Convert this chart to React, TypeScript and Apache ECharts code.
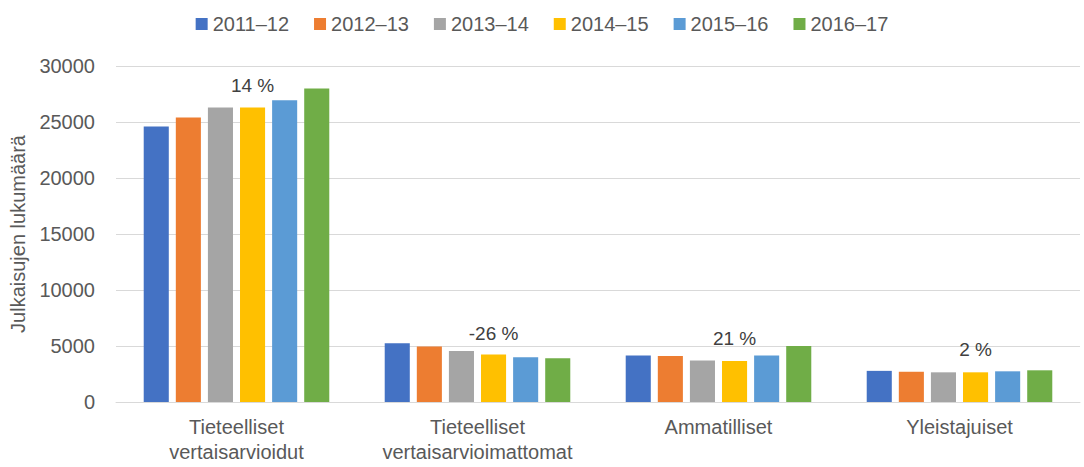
import React, { useEffect, useRef } from "react";
import * as echarts from "echarts";

const categories = [
  "Tieteelliset\nvertaisarvioidut",
  "Tieteelliset\nvertaisarvioimattomat",
  "Ammatilliset",
  "Yleistajuiset",
];
const years = ["2011–12", "2012–13", "2013–14", "2014–15", "2015–16", "2016–17"];
const s2011 = [24600, 5250, 4150, 2780];
const s2012 = [25400, 4950, 4100, 2700];
const s2013 = [26300, 4550, 3700, 2650];
const s2014 = [26300, 4250, 3650, 2650];
const s2015 = [26950, 4000, 4150, 2740];
const s2016 = [28000, 3900, 5000, 2830];
const seriesValues = [s2011, s2012, s2013, s2014, s2015, s2016];
const colors = ["#4472C4", "#ED7D31", "#A5A5A5", "#FFC000", "#5B9BD5", "#70AD47"];
const changeLabels = ["14 %", "-26 %", "21 %", "2 %"];
const changeLabelPos = [28300, 6150, 5700, 4650];
const yTicks = { min: 0, max: 30000, interval: 5000 };

const FONT = "'Liberation Sans', Arial, sans-serif";

export default function App() {
  const ref = useRef<HTMLDivElement>(null);
  useEffect(() => {
    document.body.style.margin = "0";
    if (!ref.current) return;
    const chart = echarts.init(ref.current, null, { renderer: "svg" });
    const series: any[] = seriesValues.map((vals, i) => {
      const s: any = {
        name: years[i],
        type: "bar",
        data: vals,
        itemStyle: { color: colors[i] },
        barGap: "28%",
        barCategoryGap: "23%",
      };
      if (i === 3) {
        s.markPoint = {
          symbol: "circle",
          symbolSize: 1,
          itemStyle: { color: "transparent" },
          label: {
            show: true,
            position: "inside",
            formatter: "{b}",
            color: "#404040",
            fontSize: 19,
            fontFamily: FONT,
          },
          data: categories.map((c, k) => ({
            name: changeLabels[k],
            coord: [k, changeLabelPos[k]],
          })),
        };
      }
      return s;
    });
    chart.setOption({
      animation: false,
      textStyle: { fontFamily: FONT },
      legend: {
        top: 9,
        left: "center",
        icon: "rect",
        itemWidth: 12,
        itemHeight: 12,
        itemGap: 25,
        textStyle: { color: "#595959", fontSize: 20, fontFamily: FONT },
        data: years,
      },
      grid: { left: 116, right: 4, top: 66, bottom: 65, containLabel: false },
      xAxis: {
        type: "category",
        data: categories,
        axisTick: { show: false },
        axisLine: { lineStyle: { color: "#d9d9d9", width: 1 } },
        axisLabel: {
          color: "#595959",
          fontSize: 20,
          lineHeight: 25,
          margin: 12,
          fontFamily: FONT,
          interval: 0,
        },
      },
      yAxis: {
        type: "value",
        min: yTicks.min,
        max: yTicks.max,
        interval: yTicks.interval,
        name: "Julkaisujen lukumäärä",
        nameLocation: "middle",
        nameGap: 88,
        nameTextStyle: { color: "#595959", fontSize: 20, fontFamily: FONT },
        axisLine: { show: false },
        axisTick: { show: false },
        splitLine: { lineStyle: { color: "#d9d9d9", width: 1 } },
        axisLabel: {
          color: "#595959",
          fontSize: 20,
          margin: 21,
          fontFamily: FONT,
          formatter: (v: number) => String(v),
        },
      },
      series,
    });
    return () => chart.dispose();
  }, []);
  return <div ref={ref} style={{ width: 1084, height: 467 }} />;
}
